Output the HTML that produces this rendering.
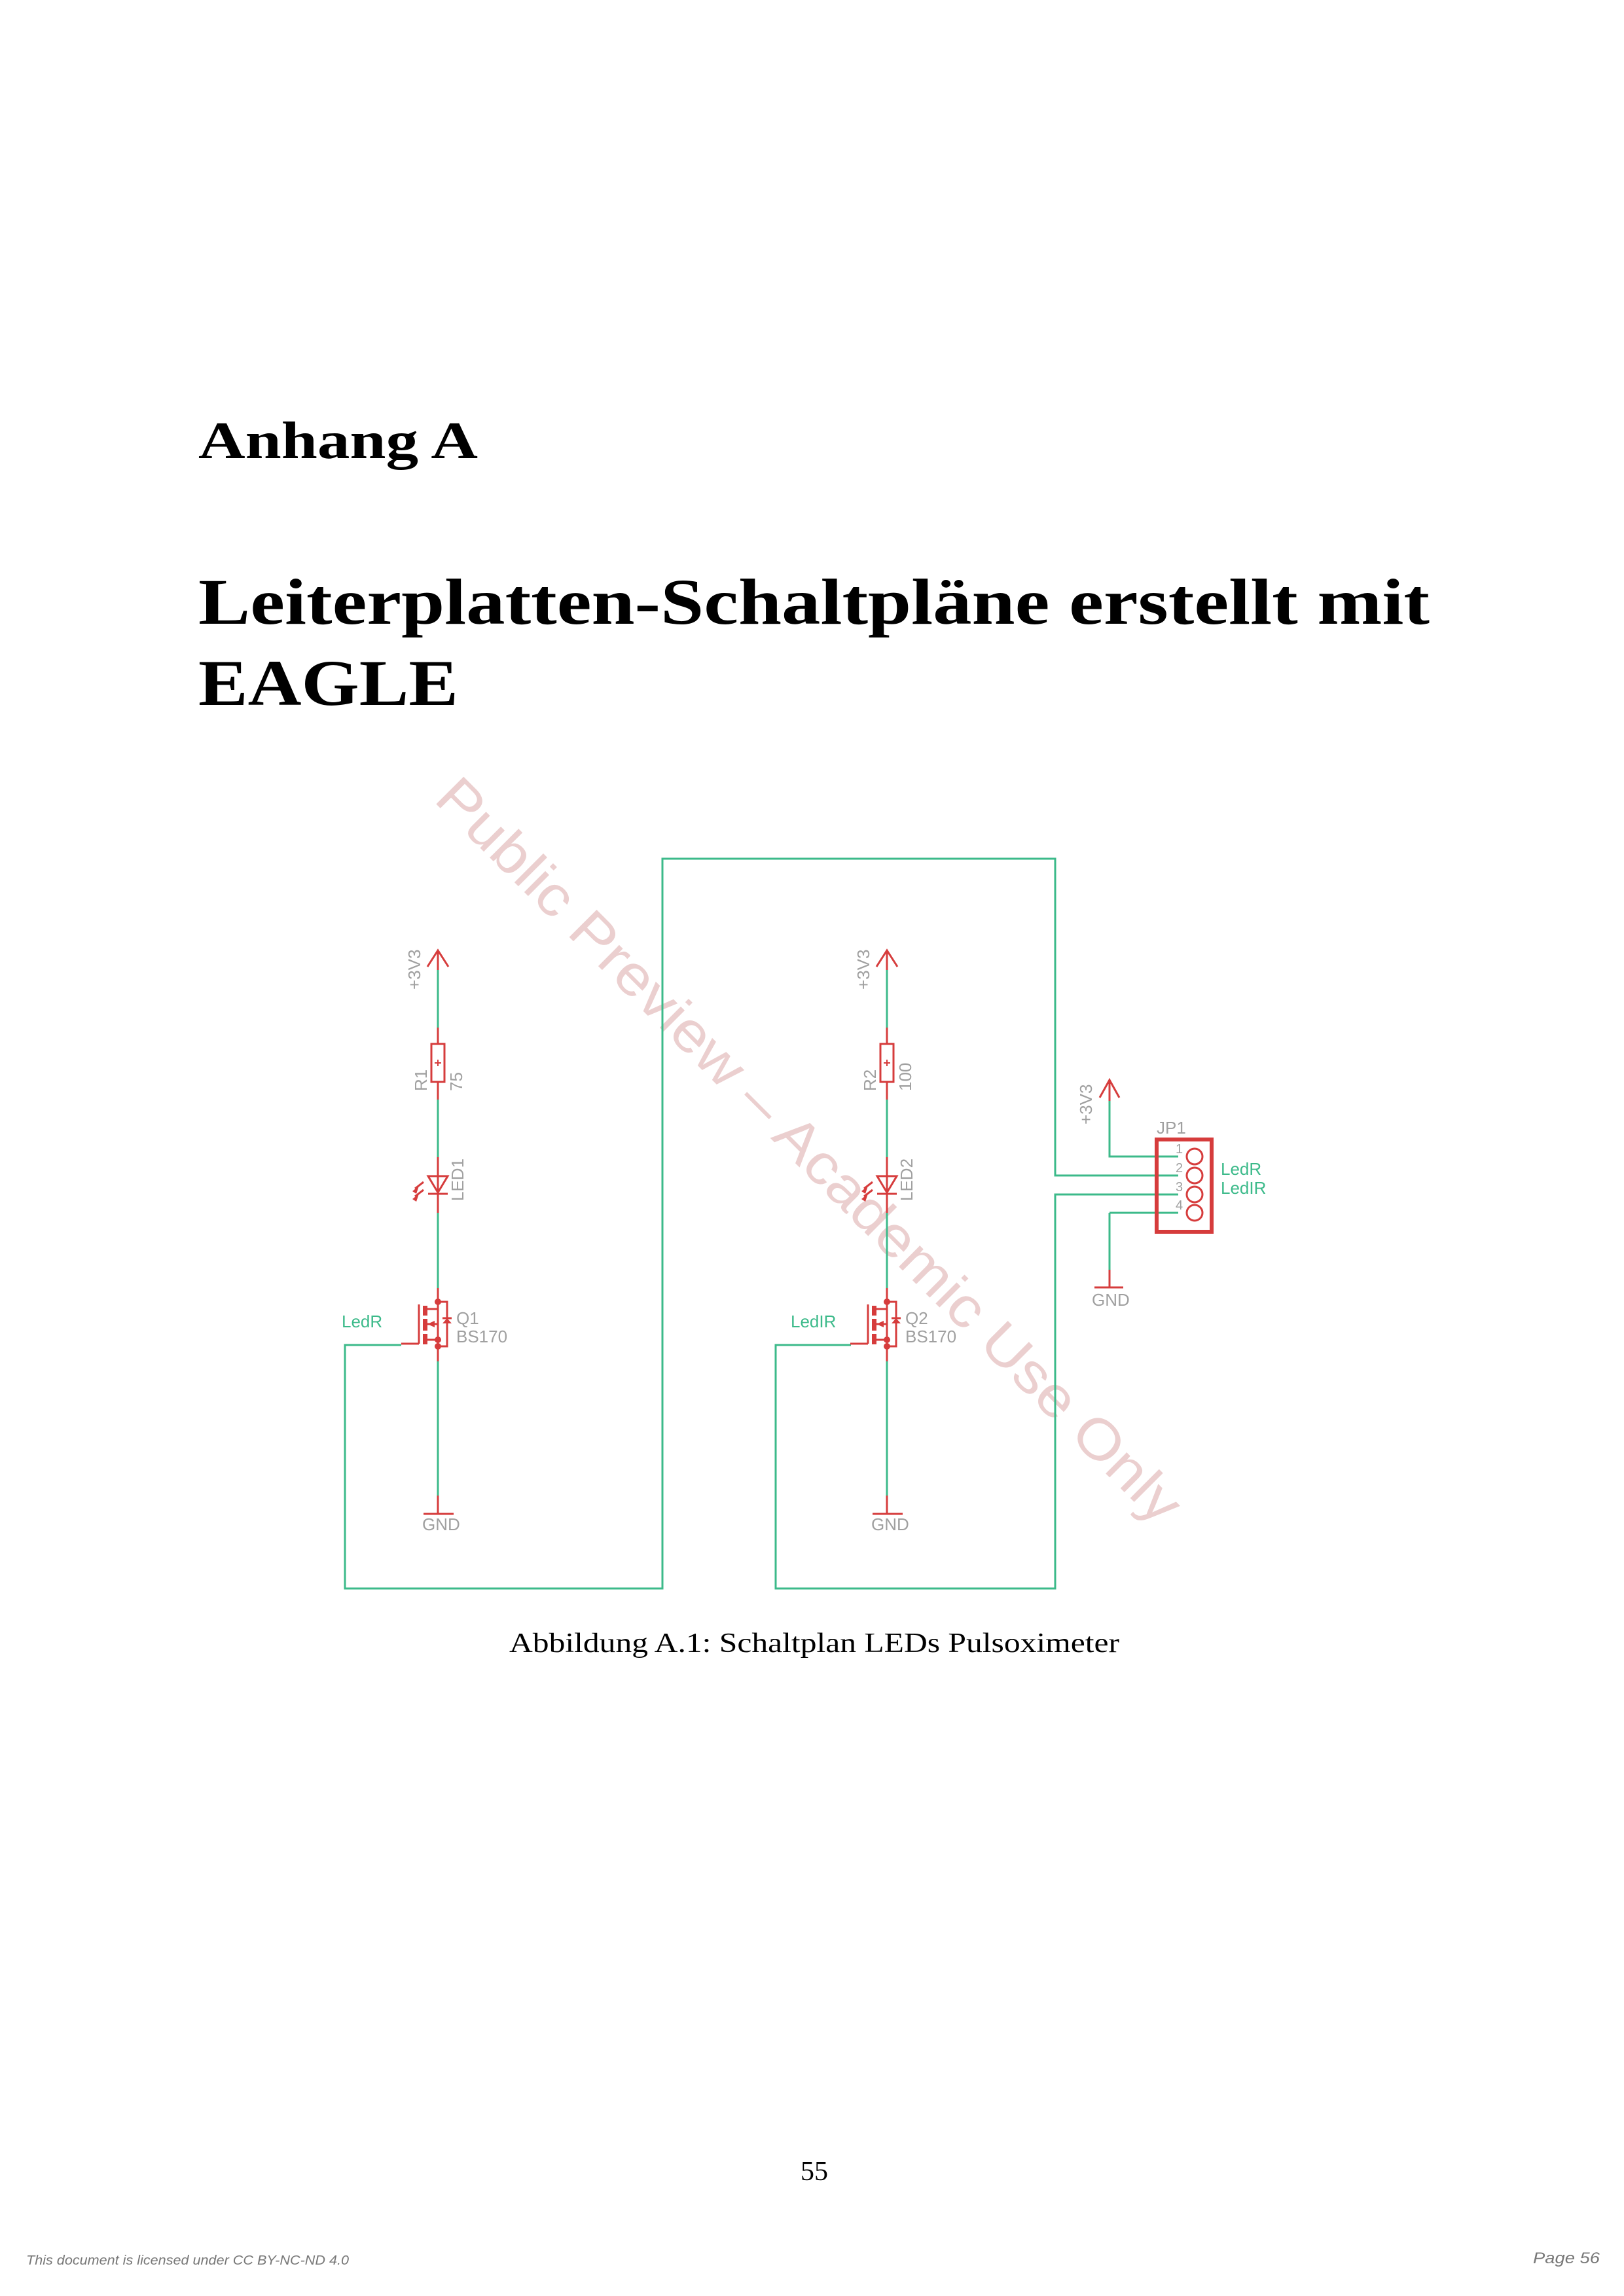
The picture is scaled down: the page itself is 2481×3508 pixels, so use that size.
<!DOCTYPE html>
<html><head><meta charset="utf-8"><style>
html,body{margin:0;padding:0;background:#fff;}
svg{display:block;}
</style></head><body>
<svg width="2481" height="3508" viewBox="0 0 2481 3508" xmlns="http://www.w3.org/2000/svg">
<rect width="2481" height="3508" fill="#fff"/>
<g font-family="Liberation Serif, serif" fill="#000" font-weight="bold">
<text x="303" y="700" font-size="80" textLength="427" lengthAdjust="spacingAndGlyphs">Anhang A</text>
<text x="303" y="953" font-size="100" textLength="1881" lengthAdjust="spacingAndGlyphs">Leiterplatten-Schaltpläne erstellt mit</text>
<text x="303" y="1077" font-size="100" textLength="397" lengthAdjust="spacingAndGlyphs">EAGLE</text>
</g>

<text x="0" y="0" transform="translate(1232,1762) rotate(45)" text-anchor="middle" dominant-baseline="middle" font-family="Liberation Sans, sans-serif" font-size="86" fill="#ebcfcf" textLength="1570" lengthAdjust="spacingAndGlyphs">Public Preview – Academic Use Only</text>

<g fill="none" stroke-width="3">
<g stroke="#3cba8a">
<polyline points="613,2055 527,2055 527,2427 1012,2427 1012,1312 1612,1312 1612,1796 1800,1796"/>
<polyline points="1300,2055 1185,2055 1185,2427 1612,2427 1612,1825 1800,1825"/>
<polyline points="1695,1680 1695,1767 1800,1767"/>
<polyline points="1695,1853 1800,1853 "/>
<line x1="1695" y1="1853" x2="1695" y2="1940"/>
</g>
</g>

<defs>
<g id="col">
 <g stroke="#3cba8a" stroke-width="3" fill="none">
  <line x1="669" y1="1482" x2="669" y2="1570"/>
  <line x1="669" y1="1680" x2="669" y2="1768"/>
  <line x1="669" y1="1853" x2="669" y2="1968"/>
  <line x1="669" y1="2080" x2="669" y2="2285"/>
 </g>
 <g stroke="#d63c3c" stroke-width="3" fill="none">
  <polyline points="653,1477 669,1452 685,1477"/>
  <line x1="669" y1="1452" x2="669" y2="1482"/>
  <line x1="669" y1="1570" x2="669" y2="1595"/>
  <rect x="659" y="1595" width="20" height="58"/>
  <line x1="664" y1="1624" x2="674" y2="1624" stroke-width="2"/>
  <line x1="669" y1="1619" x2="669" y2="1629" stroke-width="2"/>
  <line x1="669" y1="1653" x2="669" y2="1680"/>
  <line x1="669" y1="1768" x2="669" y2="1853"/>
  <polygon points="654,1797 684,1797 669,1822"/>
  <line x1="654" y1="1824" x2="684" y2="1824"/>
  <line x1="647" y1="1806" x2="634" y2="1816"/>
  <line x1="647" y1="1818" x2="634" y2="1828"/>
  <line x1="669" y1="1968" x2="669" y2="2080"/>
  <line x1="613" y1="2053" x2="640" y2="2053"/>
  <line x1="640" y1="1993" x2="640" y2="2053"/>
  <polyline points="652,2000 669,2000 669,1989 683,1989 683,2057 669,2057"/>
  <line x1="652" y1="2023" x2="669" y2="2023"/>
  <line x1="652" y1="2047" x2="669" y2="2047"/>
  <line x1="676" y1="2014" x2="690" y2="2014"/>
  <line x1="669" y1="2023" x2="669" y2="2047"/>
  <line x1="647" y1="2313" x2="693" y2="2313"/>
  <line x1="669" y1="2285" x2="669" y2="2313"/>
 </g>
 <g fill="#d63c3c">
  <polygon points="630,1820 640,1812 636,1824"/>
  <polygon points="630,1832 640,1824 636,1836"/>
  <rect x="646" y="1995" width="7" height="15"/>
  <rect x="646" y="2015" width="7" height="18"/>
  <rect x="646" y="2038" width="7" height="16"/>
  <circle cx="669" cy="1989" r="5"/>
  <circle cx="669" cy="2047" r="5"/>
  <circle cx="669" cy="2057" r="5"/>
  <polygon points="653,2023 664,2018 664,2028"/>
  <polygon points="676,2022 690,2022 683,2014"/>
 </g>
 <g font-family="Liberation Sans, sans-serif" font-size="26" fill="#a0a0a0">
  <text transform="translate(642,1512) rotate(-90)">+3V3</text>
  <text x="645" y="2338">GND</text>
 </g>
</g>
</defs>
<use href="#col"/>
<use href="#col" x="686"/>

<g font-family="Liberation Sans, sans-serif" font-size="26" fill="#a0a0a0">
<text transform="translate(652,1667) rotate(-90)">R1</text>
<text transform="translate(706,1667) rotate(-90)">75</text>
<text transform="translate(708,1835) rotate(-90)">LED1</text>
<text x="697" y="2023">Q1</text>
<text x="697" y="2051">BS170</text>
<text transform="translate(1338,1667) rotate(-90)">R2</text>
<text transform="translate(1392,1667) rotate(-90)">100</text>
<text transform="translate(1394,1835) rotate(-90)">LED2</text>
<text x="1383" y="2023">Q2</text>
<text x="1383" y="2051">BS170</text>
<text transform="translate(1668,1718) rotate(-90)">+3V3</text>
<text x="1767" y="1732">JP1</text>
<text x="1668" y="1995">GND</text>
<text x="1796" y="1762" font-size="20">1</text>
<text x="1796" y="1791" font-size="20">2</text>
<text x="1796" y="1820" font-size="20">3</text>
<text x="1796" y="1848" font-size="20">4</text>
</g>
<g font-family="Liberation Sans, sans-serif" font-size="26" fill="#3cba8a">
<text x="522" y="2028">LedR</text>
<text x="1208" y="2028">LedIR</text>
<text x="1865" y="1795">LedR</text>
<text x="1865" y="1824">LedIR</text>
</g>

<g stroke="#d63c3c" fill="none">
<rect x="1767" y="1741" width="84" height="141" stroke-width="6"/>
<circle cx="1825" cy="1767" r="12" stroke-width="3"/>
<circle cx="1825" cy="1796" r="12" stroke-width="3"/>
<circle cx="1825" cy="1825" r="12" stroke-width="3"/>
<circle cx="1825" cy="1853" r="12" stroke-width="3"/>
<polyline points="1680,1677 1695,1650 1710,1677" stroke-width="3"/>
<line x1="1695" y1="1650" x2="1695" y2="1682" stroke-width="3"/>
<line x1="1695" y1="1940" x2="1695" y2="1967" stroke-width="3"/>
<line x1="1672" y1="1967" x2="1716" y2="1967" stroke-width="3"/>
</g>

<g font-family="Liberation Serif, serif" fill="#000">
<text x="1244" y="2524" font-size="42" text-anchor="middle" textLength="932" lengthAdjust="spacingAndGlyphs">Abbildung A.1: Schaltplan LEDs Pulsoximeter</text>
<text x="1244" y="3331" font-size="42" text-anchor="middle">55</text>
</g>
<g font-family="Liberation Sans, sans-serif" font-style="italic" fill="#777">
<text x="40" y="3460" font-size="20" textLength="493" lengthAdjust="spacingAndGlyphs">This document is licensed under CC BY-NC-ND 4.0</text>
<text x="2342" y="3458" font-size="24" textLength="102" lengthAdjust="spacingAndGlyphs">Page 56</text>
</g>
</svg>
</body></html>
